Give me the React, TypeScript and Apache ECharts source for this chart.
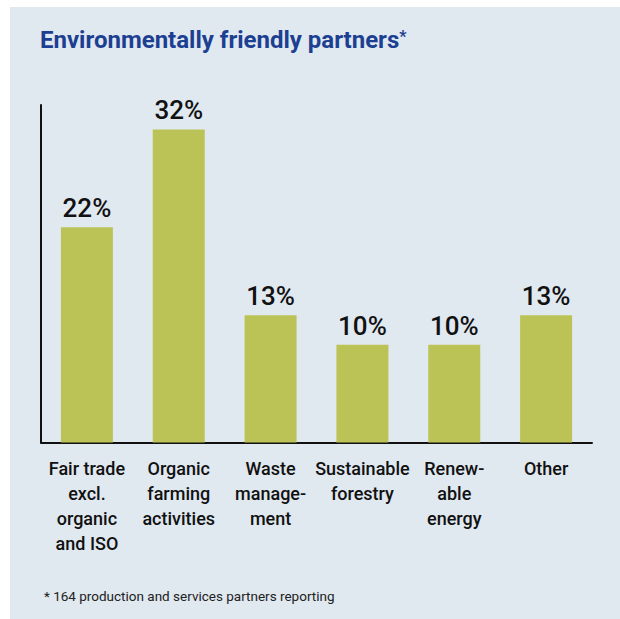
import React, { useEffect, useRef } from "react";
import * as echarts from "echarts";

const categories = [
  "Fair trade\nexcl.\norganic\nand ISO",
  "Organic\nfarming\nactivities",
  "Waste\nmanage-\nment",
  "Sustainable\nforestry",
  "Renew-\nable\nenergy",
  "Other",
];
const values = [22, 32, 13, 10, 10, 13];
const titleText = "Environmentally friendly partners";
const footnote = "164 production and services partners reporting";

const FONT = "Roboto, 'Liberation Sans', sans-serif";

export default function App() {
  const ref = useRef<HTMLDivElement>(null);
  useEffect(() => {
    if (!ref.current) return;
    const chart = echarts.init(ref.current, undefined, { renderer: "svg" });
    chart.setOption({
      animation: false,
      backgroundColor: "#ffffff",
      title: {
        text: `{a|${titleText}}{b|*}`,
        left: 40,
        top: 28,
        padding: 0,
        textStyle: {
          rich: {
            a: { fontFamily: FONT, fontSize: 24, fontWeight: "bold", color: "#1c3f92" },
            b: { fontFamily: FONT, fontSize: 16, fontWeight: "bold", color: "#1c3f92", verticalAlign: "top" },
          },
        },
      },
      graphic: [
        {
          type: "rect",
          z: -10,
          silent: true,
          shape: { x: 10, y: 7, width: 610, height: 612 },
          style: { fill: "#e0e8f0" },
        },
        {
          type: "text",
          x: 44,
          y: 596,
          style: {
            text: "* " + footnote,
            fontFamily: FONT,
            fontSize: 13.5,
            fill: "#222222",
            verticalAlign: "middle",
          },
        },
      ],
      grid: { left: 41, right: 28, top: 105, bottom: 176.5, containLabel: false },
      xAxis: {
        type: "category",
        data: categories,
        axisLine: { show: true, lineStyle: { color: "#111111", width: 2 } },
        axisTick: { show: false },
        axisLabel: {
          interval: 0,
          margin: 13,
          fontFamily: FONT,
          fontSize: 18,
          fontWeight: 500,
          lineHeight: 25,
          color: "#111111",
          align: "center",
        },
      },
      yAxis: {
        type: "value",
        min: 0,
        max: 34.5,
        axisLine: { show: true, lineStyle: { color: "#111111", width: 2 } },
        axisTick: { show: false },
        axisLabel: { show: false },
        splitLine: { show: false },
      },
      series: [
        {
          type: "bar",
          data: values,
          barWidth: 52,
          itemStyle: { color: "#bcc356" },
          label: {
            show: true,
            position: "top",
            distance: 6,
            formatter: "{c}%",
            fontFamily: FONT,
            fontSize: 26,
            fontWeight: 500,
            color: "#111111",
          },
        },
      ],
    });
    return () => chart.dispose();
  }, []);
  return (
    <div style={{ position: "fixed", left: 0, top: 0, width: 620, height: 619 }}>
      <div ref={ref} style={{ width: 620, height: 619 }} />
    </div>
  );
}
